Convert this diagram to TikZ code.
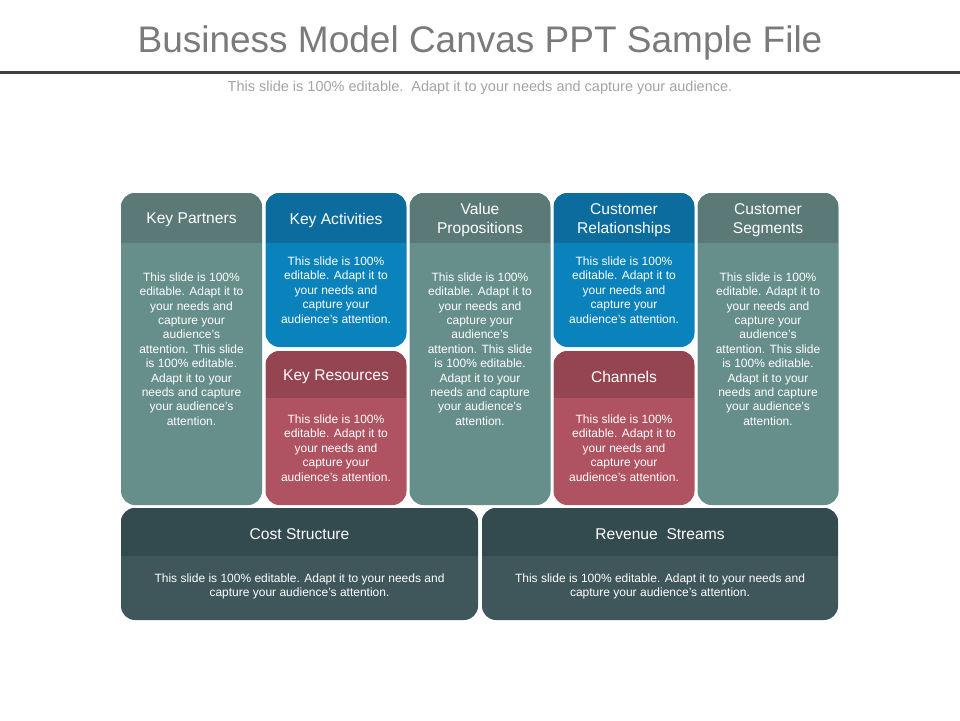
\documentclass[tikz,border=0pt]{standalone}
\usepackage{fontspec}
\setmainfont{Liberation Sans}
\definecolor{tealhead}{HTML}{5B7A77}
\definecolor{tealbody}{HTML}{668F8B}
\definecolor{bluehead}{HTML}{0B6C9D}
\definecolor{bluebody}{HTML}{0A82BB}
\definecolor{redhead}{HTML}{954452}
\definecolor{redbody}{HTML}{AF5262}
\definecolor{darkhead}{HTML}{334A4E}
\definecolor{darkbody}{HTML}{3F575B}
\definecolor{titlegray}{HTML}{7A7A7A}
\definecolor{subgray}{HTML}{A3A3A3}
\definecolor{rulegray}{HTML}{404040}
\begin{document}
\begin{tikzpicture}[x=1pt,y=-1pt,
  card/.style={rounded corners=14pt, inner sep=0pt, outer sep=0pt, minimum width=141pt},
  hdr/.style 2 args={path picture={\fill[#1, sharp corners] (path picture bounding box.north west) rectangle ([yshift=-#2]path picture bounding box.north east);}},
  headtxt/.style={text=white, align=center, font=\fontsize{15.6}{19}\selectfont, inner sep=0pt},
  bodytxt/.style={text=white, align=center, font=\fontsize{12}{14.4}\selectfont, inner sep=0pt}]
\useasboundingbox (0,0) rectangle (960,720);
% title
\node[text=titlegray, font=\fontsize{37}{44}\selectfont, inner sep=0pt] (title) at (480,43) {Business Model Canvas PPT Sample File};
\coordinate (ruleL) at (0,72);
\coordinate (ruleR) at (960,72);
\draw[rulegray, line width=3pt] (ruleL) -- (ruleR);
\node[text=subgray, font=\fontsize{14.5}{17}\selectfont, inner sep=0pt] (sub) at (480,88) {This slide is 100\% editable.\ \ Adapt it to your needs and capture your audience.};
% cards
\node[card, fill=tealbody, minimum height=312pt, hdr={tealhead}{50pt}] (kp) at (191.5,349) {};
\node[card, fill=bluebody, minimum height=154pt, hdr={bluehead}{50pt}] (ka) at (336,270) {};
\node[card, fill=redbody, minimum height=154pt, hdr={redhead}{47pt}] (kr) at (336,428) {};
\node[card, fill=tealbody, minimum height=312pt, hdr={tealhead}{50pt}] (vp) at (480,349) {};
\node[card, fill=bluebody, minimum height=154pt, hdr={bluehead}{50pt}] (cr) at (624,270) {};
\node[card, fill=redbody, minimum height=154pt, hdr={redhead}{47pt}] (ch) at (624,428) {};
\node[card, fill=tealbody, minimum height=312pt, hdr={tealhead}{50pt}] (cs) at (768,349) {};
\node[card, fill=darkbody, minimum width=357pt, minimum height=112pt, hdr={darkhead}{48pt}] (cost) at (299.5,564) {};
\node[card, fill=darkbody, minimum width=356pt, minimum height=112pt, hdr={darkhead}{48pt}] (rev) at (660,564) {};
% headers
\node[headtxt] (kpH) at (191.5,220) {Key Partners};
\node[headtxt] (kaH) at (336,220) {Key Activities};
\node[headtxt] (krH) at (336,377) {Key Resources};
\node[headtxt] (vpH) at (480,220) {Value\\Propositions};
\node[headtxt] (crH) at (624,220) {Customer\\Relationships};
\node[headtxt] (chH) at (624,377) {Channels};
\node[headtxt] (csH) at (768,220) {Customer\\Segments};
\node[headtxt] (costH) at (299.5,534) {Cost Structure};
\node[headtxt] (revH) at (660,534) {Revenue\ \ Streams};
% bodies
\newcommand{\longtxt}{This slide is 100\%\\editable. Adapt it to\\your needs and\\capture your\\audience's\\attention. This slide\\is 100\% editable.\\Adapt it to your\\needs and capture\\your audience's\\attention.}
\newcommand{\shorttxt}{This slide is 100\%\\editable. Adapt it to\\your needs and\\capture your\\audience's attention.}
\node[bodytxt] (kpB) at (191.5,349) {\longtxt};
\node[bodytxt] (vpB) at (480,349) {\longtxt};
\node[bodytxt] (csB) at (768,349) {\longtxt};
\node[bodytxt] (kaB) at (336,290) {\shorttxt};
\node[bodytxt] (crB) at (624,290) {\shorttxt};
\node[bodytxt] (krB) at (336,448) {\shorttxt};
\node[bodytxt] (chB) at (624,448) {\shorttxt};
\node[bodytxt] (costB) at (299.5,586.5) {This slide is 100\% editable. Adapt it to your needs and\\capture your audience's attention.};
\node[bodytxt] (revB) at (660,586.5) {This slide is 100\% editable. Adapt it to your needs and\\capture your audience's attention.};
\end{tikzpicture}
\end{document}
